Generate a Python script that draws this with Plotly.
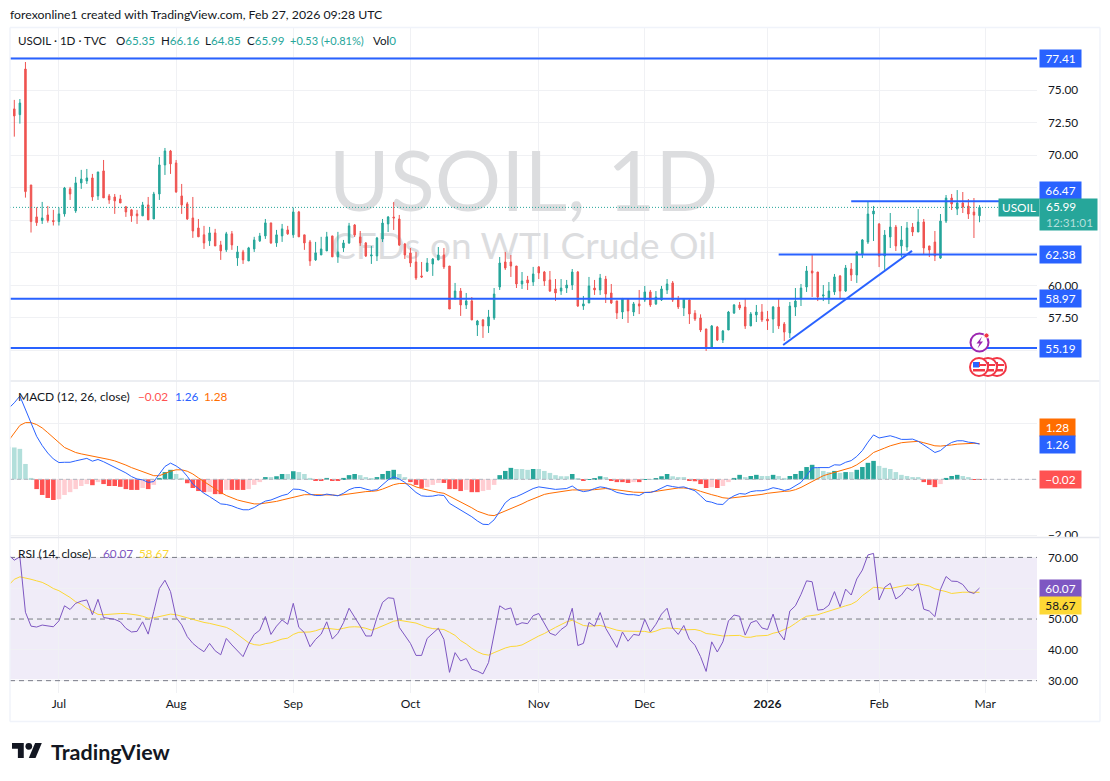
import plotly.graph_objects as go

bars = list(range(-1, 174))
opens = [69.5,73.55,73.11,76.61,67.71,65.26,64.98,65.41,64.98,64.9,65.49,67.41,65.72,67.87,68.02,68.25,66.87,68.79,66.87,66.79,66.64,66.03,65.8,65.49,65.34,66.18,65.1,67.02,69.25,70.32,69.4,66.87,66.26,65.18,64.41,63.88,63.42,64.03,63.11,62.73,63.96,62.11,62.57,61.88,62.8,63.42,63.8,64.8,63.26,63.8,64.26,63.88,65.64,63.88,63.34,61.96,62.34,62.65,63.8,62.19,62.88,63.26,64.64,63.72,63.26,62.26,62.26,63.56,64.72,65.25,65.1,63.18,62.49,61.8,60.73,61.1,61.64,61.95,62.34,61.49,58.96,59.57,58.5,58.81,56.96,57.35,56.89,57.5,59.88,61.8,61.8,61.49,60.11,60.42,60.27,61.42,61.03,60.42,59.73,59.57,59.8,60.03,61.03,58.42,58.65,59.8,59.65,60.49,59.42,58.81,57.96,58.96,57.96,58.58,58.88,59.5,58.58,58.88,59.65,60.19,58.96,58.27,58.88,57.86,57.5,56.66,55.27,56.81,55.81,56.58,57.88,58.5,58.34,56.89,57.73,57.96,57.42,57.42,58.34,57.04,56.35,58.34,58.96,59.88,61.11,61.03,59.19,58.96,59.5,60.72,59.57,61.26,60.8,62.41,63.33,65.48,64.71,62.26,63.72,64.48,63.03,62.95,64.48,64.1,64.87,63.03,63.33,62.1,64.94,66.71,65.86,66.33,66.09,65.63,65.35]
highs = [73.8,74.24,74.31,77.15,67.71,66.0,66.41,66.1,65.8,65.98,67.56,67.56,68.33,68.87,68.94,68.56,68.71,69.63,67.02,67.02,66.95,66.1,65.87,65.8,66.41,66.79,67.18,69.86,70.55,70.4,69.63,67.79,66.41,66.79,65.1,64.57,64.49,64.34,63.42,64.11,64.18,63.03,62.73,62.96,63.73,64.03,65.1,64.8,64.26,64.72,64.57,65.98,65.72,63.88,63.49,63.34,63.73,64.11,63.8,64.11,63.49,64.8,64.71,64.18,63.33,63.03,63.72,65.1,65.33,66.4,65.41,63.26,62.87,62.57,61.8,62.1,62.1,62.95,62.87,61.49,60.19,59.8,59.42,59.11,57.35,57.42,58.12,59.8,62.18,62.57,62.34,61.49,61.03,60.73,61.42,61.49,61.11,61.11,60.49,60.49,60.42,61.26,61.11,59.19,60.65,60.42,60.88,60.73,60.11,58.81,59.04,58.96,58.73,59.65,59.96,59.65,59.57,59.96,60.49,60.34,59.19,58.96,58.96,58.1,57.78,56.66,56.96,56.89,56.58,58.04,58.57,58.73,58.96,57.96,58.5,58.57,58.04,58.42,58.96,57.19,58.73,59.8,60.11,61.49,62.33,61.03,60.03,60.26,60.88,60.8,61.57,61.72,62.64,63.56,66.48,66.1,64.79,64.25,65.56,64.64,64.56,64.87,64.79,65.86,65.1,63.03,64.18,65.48,66.94,67.02,67.32,67.17,66.63,66.71,66.16]
lows = [69.5,71.42,72.42,66.74,64.06,64.57,64.72,64.82,64.6,64.6,65.28,66.56,65.57,67.41,67.79,66.49,66.56,66.72,66.26,65.49,66.33,65.26,64.88,64.72,65.34,65.03,65.1,66.56,68.48,68.56,67.1,65.49,65.03,63.65,63.73,62.8,63.03,63.03,61.96,62.57,62.73,61.5,61.65,61.88,62.57,63.34,63.57,63.19,62.96,63.34,63.88,63.65,63.73,62.73,61.5,61.88,62.34,62.65,62.19,61.73,62.57,63.19,63.72,63.03,62.18,61.65,61.87,63.33,64.1,64.26,63.03,62.03,61.42,60.42,60.57,61.03,60.73,61.95,61.26,58.19,58.96,57.66,58.19,57.35,56.12,55.97,56.35,57.35,59.65,61.19,60.65,59.8,59.73,59.65,59.96,60.49,59.96,59.5,58.81,59.27,59.42,59.65,58.35,58.12,58.65,59.27,59.27,58.65,58.58,57.42,57.42,57.12,57.65,57.8,58.73,58.35,58.5,58.81,59.34,58.73,58.19,57.65,57.04,57.27,56.42,54.97,55.2,55.73,55.58,56.58,57.81,58.12,56.66,56.89,57.19,57.19,56.58,56.35,56.66,55.73,55.96,57.65,58.42,59.5,59.11,58.8,58.8,58.57,59.27,58.96,59.5,60.34,60.19,62.1,63.18,63.41,61.41,61.2,62.87,62.64,62.18,62.64,63.79,64.1,62.41,62.18,61.87,62.03,64.79,65.79,65.4,65.56,65.1,63.64,64.85]
closes = [73.8,73.01,74.0,67.2,64.9,64.82,65.18,64.98,64.9,65.49,67.48,67.02,67.87,68.17,68.25,66.79,68.71,66.72,66.56,66.49,66.33,65.64,65.34,65.34,66.18,65.03,67.02,69.25,70.32,69.33,67.18,66.18,65.1,64.18,63.73,63.26,64.03,63.03,62.65,63.96,63.11,62.57,61.96,62.88,63.49,63.8,64.8,63.26,63.88,64.34,63.96,65.64,63.73,63.26,61.88,62.5,62.8,63.73,62.19,62.57,63.26,64.57,63.87,63.26,62.26,62.34,63.64,64.79,65.25,65.18,63.1,62.34,61.72,60.57,60.65,61.72,62.03,62.34,61.42,58.19,59.57,58.5,58.81,57.35,57.27,56.89,57.58,59.34,61.72,61.34,61.49,60.11,60.34,60.19,60.88,60.96,60.34,59.57,59.42,59.8,60.03,61.03,58.42,58.58,59.96,59.65,60.57,59.34,58.65,57.89,58.96,58.04,58.58,58.42,59.5,58.5,59.11,59.73,60.11,58.88,58.35,58.96,57.81,57.42,56.58,55.17,56.89,55.81,56.5,57.96,58.5,58.27,56.89,57.81,57.96,57.35,57.27,58.34,56.89,56.42,58.42,58.8,59.8,61.11,60.95,59.11,59.27,59.57,60.65,59.57,61.34,60.8,62.56,63.49,65.48,65.71,62.26,63.87,64.48,63.03,63.49,64.41,64.1,64.87,62.87,62.72,62.26,64.94,66.71,66.25,66.33,66.02,65.48,65.4,65.99]

macd_line = [2.54,2.74,2.98,2.48,2.0,1.54,1.21,.94,.73,.6,.61,.61,.66,.7,.75,.65,.71,.63,.53,.45,.34,.23,.1,.01,-.02,-.11,-.08,.19,.46,.58,.48,.34,.11,-.17,-.35,-.5,-.62,-.74,-.88,-.9,-.95,-1.03,-1.09,-1.09,-1.01,-.89,-.78,-.74,-.65,-.58,-.53,-.35,-.36,-.41,-.53,-.58,-.58,-.53,-.56,-.59,-.5,-.37,-.3,-.29,-.35,-.4,-.37,-.2,-.02,.09,.01,-.11,-.29,-.47,-.59,-.61,-.6,-.56,-.58,-.86,-.98,-1.09,-1.2,-1.34,-1.49,-1.61,-1.62,-1.45,-1.15,-.84,-.68,-.62,-.53,-.42,-.33,-.27,-.29,-.33,-.36,-.35,-.33,-.24,-.38,-.44,-.41,-.33,-.27,-.3,-.37,-.47,-.5,-.55,-.55,-.58,-.47,-.47,-.41,-.3,-.22,-.26,-.29,-.27,-.35,-.41,-.59,-.78,-.82,-.89,-.9,-.71,-.59,-.51,-.53,-.44,-.41,-.41,-.37,-.3,-.34,-.4,-.35,-.24,-.11,.13,.41,.42,.41,.42,.52,.51,.61,.67,.82,1.03,1.33,1.59,1.48,1.51,1.56,1.5,1.43,1.43,1.44,1.36,1.24,1.1,.96,1.03,1.2,1.32,1.38,1.38,1.33,1.31,1.26]
macd_signal = [1.39,1.64,1.93,2.03,2.03,1.96,1.84,1.67,1.49,1.3,1.14,1.05,.96,.91,.87,.83,.81,.76,.71,.66,.59,.51,.42,.35,.28,.19,.13,.13,.22,.29,.34,.34,.29,.19,.05,-.08,-.23,-.35,-.47,-.58,-.66,-.74,-.79,-.84,-.88,-.88,-.85,-.84,-.79,-.74,-.69,-.65,-.59,-.55,-.55,-.55,-.55,-.55,-.56,-.58,-.55,-.53,-.49,-.47,-.44,-.43,-.41,-.35,-.26,-.19,-.15,-.15,-.18,-.27,-.33,-.38,-.43,-.47,-.5,-.6,-.7,-.8,-.9,-1.02,-1.14,-1.22,-1.28,-1.3,-1.22,-1.13,-1.04,-.96,-.88,-.78,-.7,-.61,-.54,-.5,-.47,-.44,-.42,-.38,-.38,-.39,-.38,-.37,-.35,-.33,-.35,-.37,-.41,-.43,-.46,-.47,-.47,-.46,-.43,-.39,-.35,-.32,-.31,-.31,-.33,-.36,-.43,-.5,-.55,-.6,-.66,-.68,-.66,-.62,-.61,-.59,-.56,-.54,-.5,-.47,-.44,-.43,-.42,-.37,-.29,-.18,-.06,.05,.13,.19,.25,.3,.36,.42,.52,.65,.79,.96,1.05,1.12,1.2,1.26,1.31,1.33,1.35,1.36,1.31,1.26,1.2,1.19,1.2,1.23,1.26,1.27,1.29,1.29,1.28]
macd_hist = [1.17,1.14,1.09,.55,.05,-.35,-.56,-.67,-.74,-.71,-.56,-.46,-.35,-.24,-.17,-.21,-.1,-.17,-.24,-.24,-.27,-.35,-.38,-.38,-.31,-.35,-.2,.05,.26,.34,.19,.05,-.14,-.31,-.42,-.46,-.45,-.53,-.53,-.38,-.38,-.38,-.38,-.35,-.2,-.1,.08,.08,.11,.19,.19,.29,.26,.19,.05,-.05,-.05,.05,-.03,-.03,.05,.15,.19,.15,.08,.04,.08,.19,.3,.34,.19,.08,-.1,-.2,-.31,-.28,-.2,-.13,-.13,-.35,-.35,-.42,-.38,-.46,-.46,-.42,-.38,-.2,.15,.3,.41,.37,.37,.34,.37,.37,.3,.23,.15,.11,.11,.19,.04,-.06,.01,.04,.11,.08,-.03,-.1,-.1,-.13,-.1,-.1,.01,.01,.04,.11,.19,.11,.08,.08,-.03,-.07,-.17,-.31,-.28,-.31,-.24,-.1,.05,.16,.08,.12,.16,.12,.12,.16,.12,.05,.12,.19,.3,.44,.52,.41,.3,.26,.3,.23,.26,.26,.34,.44,.59,.66,.48,.41,.37,.26,.16,.12,.08,.08,-.1,-.2,-.28,-.17,.05,.12,.16,.12,.08,-.01,-.02]
rsi = [70.76,69.1,70.2,52.2,47.7,47.4,48.05,47.8,47.5,49.4,54.3,53.1,55.1,55.8,56.2,51.4,56.4,50.5,50.1,49.9,49.1,47,45.8,46,49.1,45.1,52.4,59.9,62.6,58.9,50.5,48.1,44.3,42.1,40.6,39.4,42.1,39.7,38.4,43.7,41.6,39.6,37.8,41.9,45,46.4,50.8,45,47.7,49.7,48.3,55.1,47.3,45.6,41,43.4,45.1,49.1,43.5,45.4,48.8,53.5,50.8,47.7,44.5,44.5,50.5,55.4,56.9,56.7,47.3,44.8,42.1,38.2,38.2,43.7,45.2,47,43.4,32.7,39.1,36.4,37.2,33.7,33.1,32.2,35.9,44.8,54.3,53.1,53.6,48.05,48.8,48.5,51.1,51.8,48.8,45.4,44.7,46.6,47.9,53.5,41.4,42.1,48.9,47.7,52.1,47,43.9,40.8,45.8,42.8,45,44.7,49.9,45.8,48.3,51.6,53.5,47.1,45,47.9,43.4,41.5,37.8,33,42.6,39.3,42.6,49.4,51.3,50.9,44.8,48.8,49.5,47.1,46.6,51.6,45.7,43.2,52.6,54.3,58,62.4,62.1,52.9,53.1,54.5,58.9,54,59.7,57.8,63,65.9,70.8,71.3,56.2,60.3,61.6,56.5,57.8,60.2,59.2,61.4,53.2,52.6,50.8,59.6,63.8,62.3,62.2,61.2,58.9,58.3,60.07]
rsi_ma = [61.0,62.9,63.7,63.4,62.9,62.4,61.9,61,59.9,59.2,58.1,57,55.6,54.8,53.5,52.4,51.5,51.4,51.6,51.8,51.8,51.8,51.6,51.3,50.9,50.3,50.4,50.8,51.3,51.6,51.4,51,50.4,49.9,49.3,48.9,48.6,48.2,47.6,47.3,46.4,45.1,43.7,42.3,41.7,41.5,42,42.3,42.9,43.5,43.8,45,45.7,45.8,45.8,46.2,46.8,47,46.9,46.6,47,47.4,47.5,47.4,47,46.4,47,47.7,48.6,49.3,49.6,49.3,49.1,48.7,48,47.3,46.9,46.8,46.6,45.7,44.7,43,41.9,40.5,39.4,38.6,38.3,39.1,39.9,40.6,41.1,41.2,41.6,42.6,43.5,44.5,45.3,46.4,47.3,48.2,49.1,49.6,48.8,47.9,47.7,47.7,47.9,47.5,46.9,46.4,46.1,46,46,46,46,45.6,46.1,46.8,47.1,47.1,46.9,46.5,46.5,46.6,46.2,45.3,45.1,44.8,44.5,44.6,44.7,44.7,44.1,44.1,44.5,44.5,44.7,45.4,45.8,46.6,47.4,48.6,49.9,50.9,51.2,51.4,52,52.5,53.1,53.7,54.3,54.8,55.8,57.6,58.9,60.3,60.2,59.9,59.9,60.3,60.7,61,61,61.5,61.1,60.7,59.8,59.4,58.9,58.3,58.6,58.7,58.7,58.6,58.67]

for name, arr in dict(opens=opens, highs=highs, lows=lows, closes=closes, macd_line=macd_line,
                      macd_signal=macd_signal, macd_hist=macd_hist, rsi=rsi, rsi_ma=rsi_ma).items():
    assert len(arr) == len(bars), (name, len(arr))

# level lines: (price, first bar)
level_prices = [77.41, 66.47, 62.38, 58.97, 55.19]
level_starts = [-1, 150, 137, -1, -1]
trend_bars = [137.8, 160.9]
trend_prices = [55.43, 62.65]
last_price = 65.99

tick_bars = [8, 29, 50, 71, 94, 113, 135, 155, 174]
tick_labels = ["Jul", "Aug", "Sep", "Oct", "Nov", "Dec", "<b>2026</b>", "Feb", "Mar"]
price_ticks = [55, 57.5, 60, 62.5, 65, 67.5, 70, 72.5, 75, 77.5]
price_tick_text = ["", "57.50", "60.00", "", "", "", "70.00", "72.50", "75.00", ""]
macd_ticks = [-2, 0, 2]
macd_tick_text = ["−2.00", "", "2.00"]
rsi_ticks = [30, 40, 50, 60, 70]
rsi_tick_text = ["30.00", "40.00", "50.00", "", "70.00"]

W, H = 1110, 781
FONT = "Lato"
INK = "#131722"
GRID = "#f0f1f4"
GREEN, RED = "#26a69a", "#ef5350"
BLUE = "#2962ff"
XR = [-0.77, 183.3]


def fx(p):
    return p / W


def fy(p):
    return 1 - p / H


XDOM = [fx(10), fx(1037)]
MAIN = [fy(380), fy(28)]
MID = [fy(537), fy(381)]
LOW = [fy(693), fy(538)]

fig = go.Figure()

# watermark lives on the lowest axis pair so that the candles paint over it
fig.add_trace(go.Scatter(x=[0.5, 0.5], y=[0.54, 0.37], xaxis="x", yaxis="y", mode="text",
                         text=["USOIL, 1D", "CFDs on WTI Crude Oil"],
                         textfont=dict(family=FONT, size=[83, 37], color="#dcdddf"),
                         hoverinfo="skip", showlegend=False))

fig.add_trace(go.Candlestick(x=bars, open=opens, high=highs, low=lows, close=closes, xaxis="x2", yaxis="y2",
                             increasing=dict(line=dict(color=GREEN, width=1), fillcolor=GREEN),
                             decreasing=dict(line=dict(color=RED, width=1), fillcolor=RED),
                             whiskerwidth=0, showlegend=False))
fig.add_trace(go.Scatter(x=XR, y=[last_price, last_price], xaxis="x2", yaxis="y2", mode="lines",
                         line=dict(color=GREEN, width=1, dash="1px,2px"), showlegend=False))
for price, start in zip(level_prices, level_starts):
    fig.add_trace(go.Scatter(x=[max(start, XR[0]), XR[1]], y=[price, price], xaxis="x2", yaxis="y2", mode="lines",
                             line=dict(color=BLUE, width=2), showlegend=False))
fig.add_trace(go.Scatter(x=trend_bars, y=trend_prices, xaxis="x2", yaxis="y2", mode="lines",
                         line=dict(color=BLUE, width=2), showlegend=False))

# MACD histogram: shade follows whether the bar grows or shrinks
hist_colors = []
for i, v in enumerate(macd_hist):
    prev = macd_hist[i - 1] if i else v
    if v >= 0:
        hist_colors.append("#26a69a" if v > prev else "#b2dfdb")
    else:
        hist_colors.append("#ff5252" if v <= prev else "#ffcdd2")
fig.add_trace(go.Bar(x=bars, y=macd_hist, width=0.82, marker=dict(color=hist_colors, line=dict(width=0)),
                     xaxis="x3", yaxis="y3", showlegend=False))
fig.add_trace(go.Scatter(x=XR, y=[0, 0], xaxis="x3", yaxis="y3", mode="lines",
                         line=dict(color="#b2b5be", width=1, dash="4px,3px"), showlegend=False))
fig.add_trace(go.Scatter(x=bars, y=macd_signal, xaxis="x3", yaxis="y3", mode="lines",
                         line=dict(color="#ff6d00", width=1), showlegend=False))
fig.add_trace(go.Scatter(x=bars, y=macd_line, xaxis="x3", yaxis="y3", mode="lines",
                         line=dict(color=BLUE, width=1), showlegend=False))

# RSI guide levels and lines
for lvl in (70, 50, 30):
    fig.add_trace(go.Scatter(x=XR, y=[lvl, lvl], xaxis="x4", yaxis="y4", mode="lines",
                             line=dict(color="#787b86", width=1, dash="5px,4px"), showlegend=False))
fig.add_trace(go.Scatter(x=bars, y=rsi_ma, xaxis="x4", yaxis="y4", mode="lines",
                         line=dict(color="#fdd835", width=1), showlegend=False))
fig.add_trace(go.Scatter(x=bars, y=rsi, xaxis="x4", yaxis="y4", mode="lines",
                         line=dict(color="#7e57c2", width=1), showlegend=False))


def xaxis(**kw):
    base = dict(range=XR, domain=XDOM, showgrid=True, gridcolor=GRID, gridwidth=1, zeroline=False,
                tickmode="array", tickvals=tick_bars, ticktext=tick_labels, showticklabels=False,
                ticks="", showline=False, fixedrange=True)
    base.update(kw)
    return base


def yaxis(**kw):
    base = dict(side="right", showgrid=True, gridcolor=GRID, gridwidth=1, zeroline=False,
                tickmode="array", tickfont=dict(family=FONT, size=11.8, color=INK), ticks="",
                ticklabelstandoff=10, showline=False, fixedrange=True)
    base.update(kw)
    return base


shapes = []


def line(x0, y0, x1, y1, color, width):
    shapes.append(dict(type="line", xref="paper", yref="paper", x0=fx(x0), y0=fy(y0), x1=fx(x1), y1=fy(y1),
                       line=dict(color=color, width=width), layer="above"))


def rect(x0, y0, x1, y1, color, layer="above"):
    shapes.append(dict(type="rect", xref="paper", yref="paper", x0=fx(x0), y0=fy(y0), x1=fx(x1), y1=fy(y1),
                       fillcolor=color, line=dict(width=0), layer=layer))


def circle(cx, cy, r, fill, stroke=None, width=0):
    shapes.append(dict(type="circle", xref="paper", yref="paper", x0=fx(cx - r), x1=fx(cx + r),
                       y0=fy(cy - r), y1=fy(cy + r), fillcolor=fill,
                       line=dict(color=stroke or fill, width=width), layer="above"))


def poly(points, fill):
    path = "M" + "L".join(f"{fx(a):.5f},{fy(b):.5f}" for a, b in points) + "Z"
    shapes.append(dict(type="path", xref="paper", yref="paper", path=path, fillcolor=fill,
                       line=dict(width=0), layer="above"))


# RSI band, under the lines
shapes.append(dict(type="rect", xref="x4", yref="y4", x0=XR[0], x1=XR[1], y0=30.5, y1=70,
                   fillcolor="rgba(126,87,194,0.115)", line=dict(width=0), layer="below"))

rect(1038, 538, 1099, 545, "white")   # the -2.00 label is cut by the pane edge
line(10, 381, 1100, 381, "#e6e8ee", 1.5)
line(10, 537.5, 1100, 537.5, "#e6e8ee", 1.5)
line(10, 27.5, 1100, 27.5, "#f0f3fa", 1.5)
line(10, 721.5, 1100, 721.5, "#f0f3fa", 1.5)
line(10, 27.5, 10, 721.5, "#f0f3fa", 1.5)
line(1100, 27.5, 1100, 721.5, "#f0f3fa", 1.5)

# news / earnings icons
for cx in (997, 988, 979):
    circle(cx, 367, 9, "white", "#f23645", 2)
    rect(cx - 6, 362, cx + 1, 367, "#f23645")
    rect(cx + 1, 364, cx + 7, 366, "#f23645")
    rect(cx - 6, 369, cx + 6, 371.5, "#f23645")
    rect(cx - 6, 362, cx, 367.5, "#2962ff")
circle(979.5, 342.5, 9, "white", "#9c27b0", 2)
poly([(982, 336.5), (976.5, 343.5), (979.5, 343.5), (977.5, 348.5), (983, 341.5), (980, 341.5)], "#9c27b0")
circle(986.5, 335.5, 2.6, "#f23645", "white", 1)

# TradingView logo
LX, LY, LS = 12, 739.6, 0.84
poly([(LX + a * LS, LY + b * LS) for a, b in [(14, 22), (7, 22), (7, 11), (0, 11), (0, 4), (14, 4)]], "#131722")
poly([(LX + a * LS, LY + b * LS) for a, b in [(28, 22), (20, 22), (27.5, 4), (35.5, 4)]], "#131722")
circle(LX + 20 * LS, LY + 8 * LS, 4 * LS, "#131722")

ann = []


def text(s, x, y, color=INK, size=11.8, anchor="left", **kw):
    ann.append(dict(text=s, x=fx(x - 2), y=fy(y), xref="paper", yref="paper", xanchor=anchor, yanchor="middle",
                    showarrow=False, font=dict(family=FONT, size=size, color=color), **kw))


def tag(s, x, y, w, h, bg, color="white", yref="paper", align="center"):
    ann.append(dict(text=s, x=fx(x), y=fy(y) if yref == "paper" else y, xref="paper", yref=yref, xanchor="left",
                    yanchor="middle", width=w, height=h, bgcolor=bg, borderpad=0, showarrow=False, align=align,
                    font=dict(family=FONT, size=11.8, color=color)))


text("forexonline1 created with TradingView.com, Feb 27, 2026 09:28 UTC", 10, 15, size=12.3)
text("USOIL · 1D · TVC", 18, 41, size=11.6)
for lab, val, x in (("O", "65.35", 116), ("H", "66.16", 161), ("L", "64.85", 205), ("C", "65.99", 247)):
    text(f'{lab}<span style="color:{GREEN}">{val}</span>', x, 41, size=11.6)
text("+0.53 (+0.81%)", 290, 41, color=GREEN, size=11)
text(f'Vol<span style="color:{GREEN}">0</span>', 373, 41, size=11.6)

text("MACD (12, 26, close)", 18, 396, size=12)
text("−0.02", 138, 396, color="#ff5252", size=11.8)
text("1.26", 175, 396, color=BLUE, size=11.8)
text("1.28", 204, 396, color="#ff6d00", size=11.8)

text("RSI (14, close)", 18, 553, size=12)
text("60.07", 103, 553, color="#7e57c2", size=11.8)
text("58.67", 139, 553, color="#fdd835", size=11.8)

text("<b>TradingView</b>", 51, 751.5, size=21.5, color="#131722")

for price in level_prices:
    if price == 66.47:
        tag(f"{price:.2f}", 1039, 190.5, 41, 17, BLUE)   # pushed up by the last-price tag, as in the reference
    else:
        tag(f"{price:.2f}", 1039, price, 41, 17, BLUE, yref="y2")
tag("USOIL", 998, 207.5, 40, 17, GREEN)
tag(f'\u00a0\u00a0{last_price:.2f}<br>\u00a0\u00a0<span style="color:#b2dfdb">12:31:01</span>',
    1039, 214.5, 57, 31, GREEN, align="left")
tag("1.28", 1039, 427.5, 35, 17, "#ff6d00")
tag("1.26", 1039, 444.5, 35, 17, BLUE)
tag("−0.02", 1039, 479.5, 41, 17, "#ff5252")
tag("60.07", 1039, 588.5, 41, 17, "#7e57c2")
tag("58.67", 1039, 605.5, 41, 17, "#fdd835", color="#131722")

fig.update_layout(
    width=W, height=H, margin=dict(l=0, r=0, t=0, b=0, autoexpand=False), autosize=False,
    paper_bgcolor="white", plot_bgcolor="white", showlegend=False, hovermode=False,
    font=dict(family=FONT, size=12, color=INK), dragmode=False,
    xaxis=dict(range=[0, 1], domain=XDOM, visible=False, fixedrange=True),
    yaxis=dict(range=[0, 1], domain=MAIN, visible=False, fixedrange=True),
    xaxis2=xaxis(overlaying="x", anchor="y2", rangeslider=dict(visible=False)),
    yaxis2=yaxis(overlaying="y", anchor="x2", range=[52.74, 79.76], tickvals=price_ticks, ticktext=price_tick_text),
    xaxis3=xaxis(anchor="y3"),
    yaxis3=yaxis(anchor="x3", domain=MID, range=[-2.065, 3.52], tickvals=macd_ticks, ticktext=macd_tick_text),
    xaxis4=xaxis(anchor="y4", showticklabels=True, tickfont=dict(family=FONT, size=12, color=INK),
                 ticklabelstandoff=2),
    yaxis4=yaxis(anchor="x4", domain=LOW, range=[26, 76.3], tickvals=rsi_ticks, ticktext=rsi_tick_text),
    bargap=0.15, boxgap=0.62, shapes=shapes, annotations=ann,
)

fig.write_html("out.html", config={"displayModeBar": False},
               post_script="document.documentElement.style.overflow='hidden';"
                           "document.body.style.overflow='hidden';"
                           "document.body.style.margin='0';document.body.style.height='781px';")
